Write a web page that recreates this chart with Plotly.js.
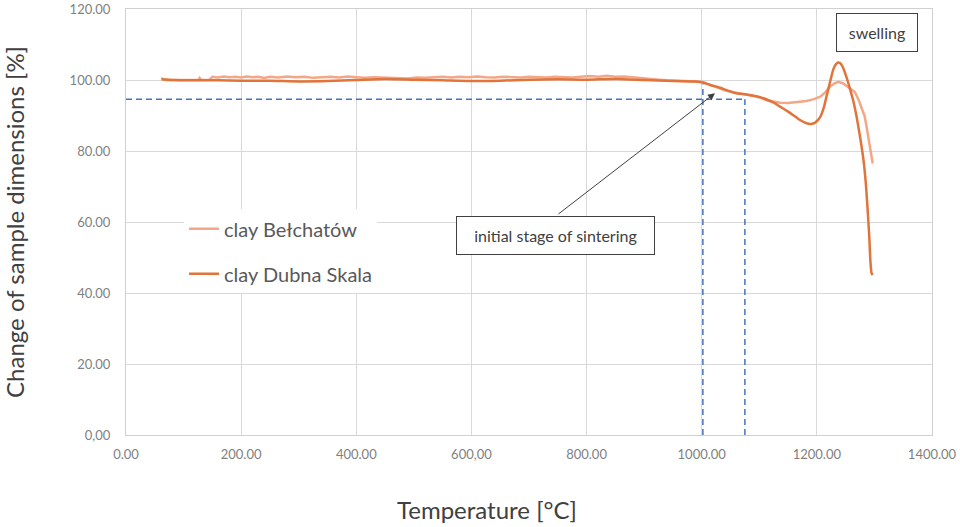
<!DOCTYPE html>
<html>
<head>
<meta charset="utf-8">
<script src="https://cdn.plot.ly/plotly-3.0.1.min.js"></script>
<style>html,body{margin:0;padding:0;background:#fff;}#chart{width:960px;height:527px;}</style>
</head>
<body>
<div id="chart"></div>
<script>
// ---- data ----
const seriesNames = ["clay Bełchatów", "clay Dubna Skala"];

const belchatowTemp = [62, 64, 70, 90, 110, 126, 128, 131, 145, 150, 160, 170, 180, 190, 200, 210, 220, 230, 240, 250, 265, 280, 295, 310, 325, 340, 355, 370, 385, 400, 415, 430, 445, 460, 475, 490, 505, 520, 535, 550, 565, 580, 595, 610, 625, 640, 655, 670, 685, 700, 715, 730, 745, 760, 775, 790, 805, 820, 835, 850, 865, 880, 895, 910, 925, 940, 960, 980, 1000, 1010, 1020, 1030, 1040, 1050, 1062, 1075, 1088, 1100, 1113, 1125, 1136, 1150, 1165, 1182, 1195, 1206, 1215, 1222, 1230, 1237, 1245, 1252, 1260, 1266, 1272, 1277, 1283, 1286, 1289, 1293, 1297];
const belchatowValue = [100.7, 100.1, 100.0, 100.0, 100.0, 100.0, 100.6, 100.0, 100.1, 100.9, 100.7, 101.0, 100.8, 100.9, 100.7, 101.0, 100.8, 100.9, 100.6, 100.9, 100.7, 101.0, 100.8, 100.9, 100.6, 100.8, 100.9, 100.7, 101.0, 100.8, 100.6, 100.8, 100.7, 100.5, 100.6, 100.4, 100.7, 100.6, 100.8, 100.9, 100.7, 100.9, 100.8, 101.0, 100.8, 100.7, 100.9, 100.8, 100.7, 100.9, 100.8, 100.7, 100.9, 100.8, 100.7, 100.9, 101.1, 100.9, 101.2, 100.9, 101.0, 100.8, 100.5, 100.3, 100.1, 99.9, 99.8, 99.7, 99.5, 98.9, 98.2, 97.7, 97.1, 96.8, 96.4, 96.0, 95.6, 95.1, 94.3, 93.9, 93.6, 93.5, 93.7, 94.1, 94.6, 95.3, 96.6, 98.0, 99.0, 99.5, 99.1, 98.2, 97.4, 96.6, 94.6, 92.6, 89.8, 87.2, 84.2, 80.5, 76.5];

const dubnaTemp = [62, 80, 120, 160, 200, 250, 300, 350, 400, 450, 500, 550, 600, 650, 700, 750, 800, 850, 900, 950, 990, 1002, 1015, 1032, 1045, 1058, 1078, 1095, 1113, 1125, 1136, 1148, 1159, 1170, 1182, 1190, 1197, 1206, 1212, 1217, 1223, 1229, 1234, 1238, 1242, 1246, 1252, 1258, 1264, 1269, 1275, 1281, 1285, 1288, 1291, 1293, 1295, 1297];
const dubnaValue = [100.2, 100.0, 99.9, 99.9, 99.8, 99.8, 99.6, 99.7, 100.0, 100.3, 100.1, 99.9, 99.7, 99.8, 100.1, 100.2, 100.1, 100.3, 100.0, 99.7, 99.6, 99.3, 98.6, 97.8, 97.0, 96.3, 95.9, 95.4, 94.5, 93.6, 92.5, 91.3, 90.1, 88.8, 87.8, 87.6, 88.0, 89.6, 92.2, 95.5, 99.5, 103.2, 104.6, 104.9, 104.5, 103.3, 100.5, 97.2, 93.6, 89.7, 84.0, 77.5, 71.0, 64.0, 56.0, 49.0, 45.6, 45.1];

const xTickVals = [0, 200, 400, 600, 800, 1000, 1200, 1400];
const xTickText = ["0.00", "200.00", "400.00", "600,00", "800.00", "1000.00", "1200.00", "1400.00"];
const yTickVals = [0, 20, 40, 60, 80, 100, 120];
const yTickText = ["0,00", "20.00", "40.00", "60.00", "80.00", "100.00", "120.00"];

// reference (dashed) markers
const refLevel = 94.6;            // horizontal dashed level
const refTempStart = 1002;        // left vertical dashed line
const refTempEnd = 1075;          // right vertical dashed line
const refTempStartTop = 98.7;

// annotation texts / anchor values
const sinterText = "initial stage of sintering";
const sinterBoxAt = [746, 56.3];
const sinterArrowHead = [1023, 96.3];
const swellText = "swelling";
const swellBoxAt = [1304.5, 113.4];

// ---- traces ----
const traces = [
  {
    x: belchatowTemp, y: belchatowValue, name: seriesNames[0], type: "scatter", mode: "lines",
    line: {color: "#F5A686", width: 2.5}, legendgroup: "a"
  },
  {
    x: dubnaTemp, y: dubnaValue, name: seriesNames[1], type: "scatter", mode: "lines",
    line: {color: "#E0743A", width: 2.5, shape: "spline", smoothing: 0.6}, legendgroup: "b"
  }
];

const dashLine = {color: "#4472C4", width: 1.5, dash: "6px,4px"};

const layout = {
  width: 960, height: 527,
  margin: {l: 126, r: 28, t: 9, b: 92},
  paper_bgcolor: "#ffffff", plot_bgcolor: "#ffffff",
  font: {family: "Lato, 'Open Sans', sans-serif", color: "#595959"},
  showlegend: true,
  legend: {
    x: 0.072, y: 0.53, xanchor: "left", yanchor: "top",
    bgcolor: "#ffffff", borderwidth: 0,
    font: {size: 20, color: "#595959", family: "Lato, 'Open Sans', sans-serif"},
    tracegroupgap: 16
  },
  xaxis: {
    range: [0, 1400], tickvals: xTickVals, ticktext: xTickText,
    showgrid: true, gridcolor: "#d9d9d9", gridwidth: 1, zeroline: false,
    showline: true, linecolor: "#d0d0d0", linewidth: 1, mirror: true,
    ticks: "", ticklabelstandoff: 7,
    tickfont: {size: 13, color: "#7f7f7f"}
  },
  yaxis: {
    range: [0, 120], tickvals: yTickVals, ticktext: yTickText,
    showgrid: true, gridcolor: "#d9d9d9", gridwidth: 1, zeroline: false,
    showline: true, linecolor: "#d0d0d0", linewidth: 1, mirror: true,
    ticks: "", ticklabelstandoff: 12,
    tickfont: {size: 13, color: "#7f7f7f"},
    title: {text: "Change of sample dimensions [%]", font: {size: 24, color: "#404040"}, standoff: 38}
  },
  shapes: [
    {type: "line", xref: "x", yref: "y", x0: 0, x1: refTempEnd, y0: refLevel, y1: refLevel, line: dashLine},
    {type: "line", xref: "x", yref: "y", x0: refTempStart, x1: refTempStart, y0: 0, y1: refTempStartTop, line: dashLine},
    {type: "line", xref: "x", yref: "y", x0: refTempEnd, x1: refTempEnd, y0: 0, y1: refLevel, line: dashLine}
  ],
  annotations: [
    {
      xref: "paper", yref: "paper", x: 0.448, y: -0.176, xanchor: "center", yanchor: "middle",
      text: "Temperature [°C]", showarrow: false, font: {size: 24, color: "#404040"}
    },
    {
      xref: "x", yref: "y", x: sinterBoxAt[0], y: sinterBoxAt[1], xanchor: "center", yanchor: "middle",
      text: sinterText, showarrow: false, font: {size: 16, color: "#404040"},
      bgcolor: "#ffffff", bordercolor: "#404040", borderwidth: 1, borderpad: 2, width: 193, height: 33
    },
    {
      xref: "x", yref: "y", x: sinterArrowHead[0], y: sinterArrowHead[1],
      ax: -158, ay: 122, axref: "pixel", ayref: "pixel",
      text: "", showarrow: true, arrowhead: 2, arrowsize: 1.4, arrowwidth: 1, arrowcolor: "#404040"
    },
    {
      xref: "x", yref: "y", x: swellBoxAt[0], y: swellBoxAt[1], xanchor: "center", yanchor: "middle",
      text: swellText, showarrow: false, font: {size: 16, color: "#404040"},
      bgcolor: "#ffffff", bordercolor: "#404040", borderwidth: 1, borderpad: 2, width: 76, height: 33
    }
  ]
};

Plotly.newPlot("chart", traces, layout, {displayModeBar: false, staticPlot: true});
</script>
</body>
</html>
